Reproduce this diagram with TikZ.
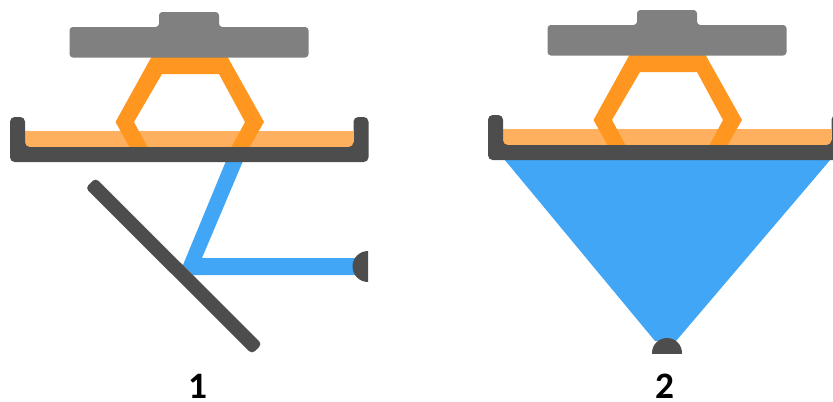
\documentclass[tikz,border=0pt]{standalone}
\usepackage{fontspec}
\setmainfont{Carlito}
\definecolor{headgray}{HTML}{808080}
\definecolor{darkgray}{HTML}{4D4D4D}
\definecolor{armorange}{HTML}{FF9620}
\definecolor{resin}{HTML}{FFB05E}
\definecolor{beam}{HTML}{40A6F5}
\tikzset{
  head/.style={fill=headgray,draw=none,rounded corners=2.5pt},
  arm/.style={fill=armorange,draw=none},
  resinfill/.style={fill=resin,draw=none},
  tray/.style={fill=darkgray,draw=none,rounded corners=3.5pt},
  light/.style={fill=beam,draw=none},
  dark/.style={fill=darkgray,draw=none},
  mirror/.style={fill=darkgray,draw=none,rounded corners=3pt},
  caption/.style={font=\fontsize{28}{28}\selectfont\bfseries,text=black,inner sep=0pt}
}
\newcommand{\assembly}{%
  \fill[resinfill] (25,131) rectangle (353,148);
  \fill[arm] (152,56) -- (227,56) -- (264,122) -- (249,148) -- (231,148) -- (245,122) -- (219,74) -- (162,74) -- (134,122) -- (148,148) -- (130,148) -- (115.5,122) -- cycle;
  \path[head] (69.5,27) -- (159,27) -- (159,12) -- (219,12) -- (219,27) -- (308.5,27) -- (308.5,57.5) -- (69.5,57.5) -- cycle;
  \path[tray] (10,117) -- (25,117) -- (25,147) -- (353.5,147) -- (353.5,117) -- (368.5,117) -- (368.5,162) -- (10,162) -- cycle;
}
\begin{document}
\begin{tikzpicture}[x=0.75pt,y=-0.75pt]
\useasboundingbox (0,0) rectangle (833,401);
% --- panel 1
\fill[light] (226,161) -- (243,161) -- (202,258) -- (360,258) -- (360,275) -- (193,275) -- (183,265) -- cycle;
\path[mirror] (85.5,188) -- (95.5,178) -- (262,344) -- (252,354) -- cycle;
\begin{scope}
  \clip (340,240) rectangle (368,290);
  \fill[dark] (368,266.5) circle[radius=15.5];
\end{scope}
\assembly
\node[caption] (one) at (198,386.5) {1};
% --- panel 2
\begin{scope}[shift={(478,-2)}]
  \clip (-478,0) rectangle (355,403);
  \fill[light] (26,161) -- (353,161) -- (198,343) -- (177,343) -- cycle;
  \assembly
\end{scope}
\begin{scope}
  \clip (640,330) rectangle (700,353);
  \fill[dark] (667,353) circle[radius=15];
\end{scope}
\node[caption] (two) at (665,386.5) {2};
\end{tikzpicture}
\end{document}
